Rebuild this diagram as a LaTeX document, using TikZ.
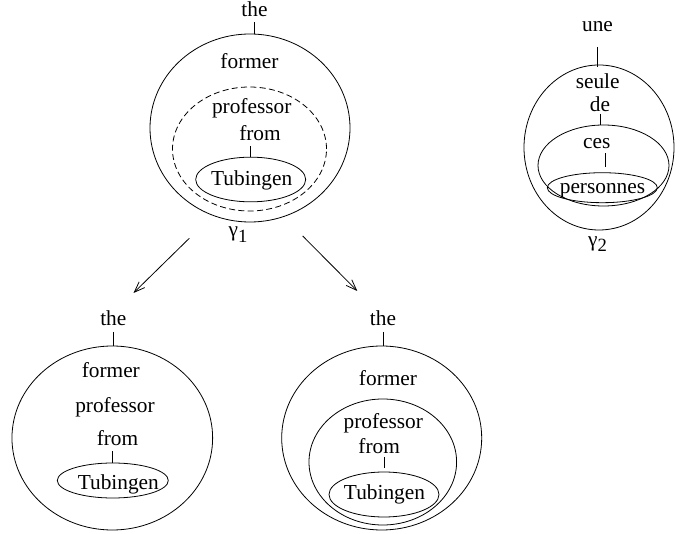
\documentclass[tikz,border=0pt]{standalone}
\usepackage{fontspec}
\setmainfont{Liberation Serif}
\usetikzlibrary{shapes.geometric, arrows.meta}
\newcommand{\subidx}[1]{\raisebox{-4pt}{\fontsize{14}{14}\selectfont #1}}

\begin{document}
\begin{tikzpicture}[x=0.75pt, y=-0.75pt, line width=0.6pt,
  every node/.style={font=\fontsize{16}{19}\selectfont},
  word/.style={inner sep=0pt, anchor=base},
  ring/.style={draw, ellipse, inner sep=0pt},
  branch/.style={-{Straight Barb[length=8pt, width=6pt]}}]
  \useasboundingbox (0,0) rectangle (682,534);

  % 1. 左上: gamma_1
  \node[ring, minimum width=150pt, minimum height=141pt] (outerA) at (250,128) {};
  \node[ring, dashed, dash pattern=on 4.5pt off 2.5pt, minimum width=115.5pt, minimum height=93pt] (midA) at (249.5,149) {};
  \node[ring, minimum width=82.5pt, minimum height=33.5pt] (tubA) at (250.7,179.5) {};
  \node[word] (theA) at (254.5,17) {the};
  \node[word] (formerA) at (249.5,69) {former};
  \node[word] (profA) at (251.7,113.3) {professor};
  \node[word] (fromA) at (260,140.7) {from};
  \node[word] (tubtA) at (251.7,186) {Tubingen};
  \node[word] (gammaA) at (238,237) {γ\subidx{1}};
  \draw ([yshift=-3.5pt]theA.south) -- (theA.south |- outerA.north);
  \draw ([yshift=-3.5pt]tubA.north |- fromA.south) -- (tubA.north);

  % 2. 右上: gamma_2
  \node[ring, minimum width=112.5pt, minimum height=123.75pt] (outerB) at (599,147.5) {};
  \node[ring, minimum width=98.25pt, minimum height=60.75pt] (midB) at (603.5,165.5) {};
  \node[ring, minimum width=82.5pt, minimum height=22.5pt] (persB) at (602.3,187.7) {};
  \node[word] (uneB) at (597.5,31.7) {une};
  \node[word] (seuleB) at (597.7,88.3) {seule};
  \node[word] (deB) at (600,111.7) {de};
  \node[word] (cesB) at (596.7,149) {ces};
  \node[word] (perstB) at (602.5,193.3) {personnes};
  \node[word] (gammaB) at (597.5,246.5) {γ\subidx{2}};
  \draw ([yshift=-11pt]uneB.south) -- ([yshift=-2pt]uneB.south |- outerB.north);
  \draw ([yshift=-1.2pt]deB.south) -- (deB.south |- midB.north);
  \draw ([yshift=-3.2pt]605,149) -- ([yshift=4pt]605,172.7);

  % 3. 两个箭头
  \coordinate (splitL) at (189.3,238.3);
  \coordinate (splitR) at (302.7,236);
  \coordinate (endL) at (133.5,293);
  \coordinate (endR) at (357.3,291);
  \draw[branch] (splitL) -- (endL);
  \draw[branch] (splitR) -- (endR);

  % 4. 左下
  \node[ring, minimum width=150.5pt, minimum height=138pt] (outerC) at (112.3,438) {};
  \node[ring, minimum width=83.25pt, minimum height=26.25pt] (tubC) at (112.8,480.5) {};
  \node[word] (theC) at (113.3,326) {the};
  \node[word] (formerC) at (110.8,377.3) {former};
  \node[word] (profC) at (115,413) {professor};
  \node[word] (fromC) at (117.5,445.7) {from};
  \node[word] (tubtC) at (118.3,489.3) {Tubingen};
  \draw ([yshift=-4pt]theC.south) -- (theC.south |- outerC.north);
  \draw ([yshift=-3.7pt]tubC.north |- fromC.south) -- (tubC.north);

  % 5. 右下
  \node[ring, minimum width=150pt, minimum height=138pt] (outerD) at (381.7,438) {};
  \node[ring, minimum width=110.7pt, minimum height=94.5pt] (midD) at (382.8,462) {};
  \node[ring, minimum width=82.5pt, minimum height=33.75pt] (tubD) at (384,494.5) {};
  \node[word] (theD) at (383,326) {the};
  \node[word] (formerD) at (388,386) {former};
  \node[word] (profD) at (383.3,429) {professor};
  \node[word] (fromD) at (379.2,453.3) {from};
  \node[word] (tubtD) at (384.5,499) {Tubingen};
  \draw ([yshift=-4pt]theD.south) -- (theD.south |- outerD.north);
  \draw ([yshift=-2.5pt]tubD.north |- fromD.south) -- ([yshift=2.5pt]tubD.north);
\end{tikzpicture}
\end{document}
